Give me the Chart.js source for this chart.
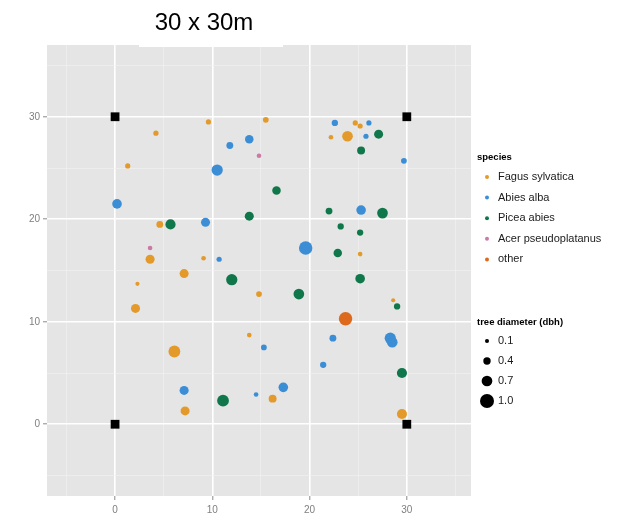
<!DOCTYPE html>
<html lang="en">
<head>
<meta charset="UTF-8">
<title>30 x 30m</title>
<script src="https://cdn.jsdelivr.net/npm/chart.js"></script>
<style>
  body { margin: 0; background: #fff; }
  #wrap { width: 636px; height: 521px; }
</style>
</head>
<body>
<div id="wrap"><canvas id="plot" width="636" height="521"></canvas></div>
<script>
// trees in the plot, each one [x, y, dbh]
const fagus = [
  [9.6, 29.5, 0.2], [4.2, 28.4, 0.2], [1.3, 25.2, 0.2], [4.6, 19.5, 0.35],
  [15.5, 29.7, 0.25], [24.7, 29.4, 0.2], [25.2, 29.1, 0.2], [22.2, 28.0, 0.15],
  [23.9, 28.1, 0.7], [3.6, 16.1, 0.55], [9.1, 16.2, 0.15], [7.1, 14.7, 0.55],
  [2.3, 13.7, 0.1], [2.1, 11.3, 0.55], [6.1, 7.1, 0.8], [7.2, 1.3, 0.55],
  [25.2, 16.6, 0.15], [14.8, 12.7, 0.25], [28.6, 12.1, 0.1], [13.8, 8.7, 0.15],
  [16.2, 2.5, 0.45], [29.5, 1.0, 0.64]
];
const abies = [
  [11.8, 27.2, 0.35], [10.5, 24.8, 0.75], [0.2, 21.5, 0.6], [9.3, 19.7, 0.55],
  [13.8, 27.8, 0.5], [22.6, 29.4, 0.3], [26.1, 29.4, 0.2], [25.8, 28.1, 0.2],
  [29.7, 25.7, 0.25], [25.3, 20.9, 0.6], [19.6, 17.2, 0.95], [10.7, 16.1, 0.2],
  [15.3, 7.5, 0.25], [22.4, 8.4, 0.35], [28.3, 8.4, 0.75], [28.5, 8.0, 0.7],
  [21.4, 5.8, 0.3], [17.3, 3.6, 0.6], [14.5, 2.9, 0.15], [7.1, 3.3, 0.55]
];
const picea = [
  [5.7, 19.5, 0.65], [27.1, 28.3, 0.55], [25.3, 26.7, 0.45], [16.6, 22.8, 0.5],
  [13.8, 20.3, 0.55], [22.0, 20.8, 0.35], [27.5, 20.6, 0.7], [23.2, 19.3, 0.3],
  [25.2, 18.7, 0.3], [22.9, 16.7, 0.5], [25.2, 14.2, 0.6], [12.0, 14.1, 0.75],
  [18.9, 12.7, 0.7], [29.0, 11.5, 0.3], [29.5, 5.0, 0.65], [11.1, 2.3, 0.8]
];
const acer = [[14.8, 26.2, 0.15], [3.6, 17.2, 0.15]];
const other = [[23.7, 10.3, 0.95]];

// plot corner posts
const corners = [[0, 0], [0, 30], [30, 0], [30, 30]];

const speciesNames = ['Fagus sylvatica', 'Abies alba', 'Picea abies', 'Acer pseudoplatanus', 'other'];
const speciesColors = ['#e39a2a', '#3b8ed6', '#10774a', '#cc79a7', '#dd6a1c'];
const sizeBreaks = [0.1, 0.4, 0.7, 1.0];
const gridAt = [-5, 0, 5, 10, 15, 20, 25, 30, 35];

const dbhRadius = d => 1.5 + 5.5 * d;
const toPts = arr => arr.map(p => ({ x: p[0], y: p[1], d: p[2] }));

const panelBg = {
  id: 'panelBg',
  beforeDraw(chart) {
    const { ctx, chartArea: a } = chart;
    ctx.save();
    ctx.fillStyle = '#e5e5e5';
    ctx.fillRect(a.left, a.top, a.right - a.left, a.bottom - a.top);
    ctx.restore();
  }
};

const titleAndLegend = {
  id: 'titleAndLegend',
  afterDraw(chart) {
    const ctx = chart.ctx;
    ctx.save();
    // pasted title box
    ctx.fillStyle = '#ffffff';
    ctx.fillRect(139, 0, 144, 47);
    ctx.fillStyle = '#000000';
    ctx.font = '24px "Liberation Sans", Arial, sans-serif';
    ctx.textAlign = 'center';
    ctx.textBaseline = 'alphabetic';
    ctx.fillText('30 x 30m', 204, 30);

    // species legend
    ctx.textAlign = 'left';
    ctx.textBaseline = 'middle';
    ctx.fillStyle = '#000000';
    ctx.font = 'bold 9.5px "Liberation Sans", Arial, sans-serif';
    ctx.fillText('species', 477, 157);
    ctx.font = '11px "Liberation Sans", Arial, sans-serif';
    speciesNames.forEach((name, i) => {
      const y = 177 + i * 20.6;
      ctx.fillStyle = speciesColors[i];
      ctx.beginPath();
      ctx.arc(487, y, 2, 0, Math.PI * 2);
      ctx.fill();
      ctx.fillStyle = '#1a1a1a';
      ctx.fillText(name, 498, y);
    });

    // size legend
    ctx.fillStyle = '#000000';
    ctx.font = 'bold 9.5px "Liberation Sans", Arial, sans-serif';
    ctx.fillText('tree diameter (dbh)', 477, 322);
    ctx.font = '11px "Liberation Sans", Arial, sans-serif';
    sizeBreaks.forEach((b, i) => {
      const y = 341 + i * 20;
      ctx.fillStyle = '#000000';
      ctx.beginPath();
      ctx.arc(487, y, dbhRadius(b), 0, Math.PI * 2);
      ctx.fill();
      ctx.fillStyle = '#1a1a1a';
      ctx.fillText(b.toFixed(1), 498, y);
    });
    ctx.restore();
  }
};

const speciesData = [fagus, abies, picea, acer, other];

const datasets = [{
  label: 'corners',
  data: corners.map(p => ({ x: p[0], y: p[1] })),
  pointStyle: 'rect',
  pointRadius: 6.2,
  backgroundColor: '#000000',
  borderWidth: 0,
  order: 0
}];
speciesData.forEach((arr, i) => {
  datasets.push({
    label: speciesNames[i],
    data: toPts(arr),
    pointRadius: c => dbhRadius(c.raw.d),
    backgroundColor: speciesColors[i],
    borderWidth: 0,
    order: 1
  });
});

const axisOpts = (isX) => ({
  type: 'linear',
  min: -7,
  max: isX ? 36.6 : 37,
  afterBuildTicks: s => { s.ticks = gridAt.map(v => ({ value: v })); },
  afterFit: s => { if (isX) s.height = 25; else s.width = 47; },
  border: { display: false },
  grid: {
    color: c => (c.tick && c.tick.value % 10 === 0) ? '#ffffff' : '#f2f2f2',
    lineWidth: c => (c.tick && c.tick.value % 10 === 0) ? 1.6 : 0.6,
    tickColor: c => (c.tick && c.tick.value % 10 === 0) ? '#8a8a8a' : 'rgba(0,0,0,0)',
    tickLength: 4,
    tickWidth: 1
  },
  ticks: {
    autoSkip: false,
    maxRotation: 0,
    color: '#7f7f7f',
    padding: isX ? 4 : 3,
    font: { family: '"Liberation Sans", Arial, sans-serif', size: 10 },
    callback: v => (v % 10 === 0 ? String(v) : '')
  }
});

new Chart(document.getElementById('plot').getContext('2d'), {
  type: 'scatter',
  data: { datasets: datasets },
  options: {
    responsive: false,
    animation: false,
    events: [],
    layout: { padding: { top: 45, right: 165, left: 0, bottom: 0 } },
    plugins: {
      legend: { display: false },
      tooltip: { enabled: false }
    },
    scales: {
      x: axisOpts(true),
      y: axisOpts(false)
    }
  },
  plugins: [panelBg, titleAndLegend]
});
</script>
</body>
</html>
